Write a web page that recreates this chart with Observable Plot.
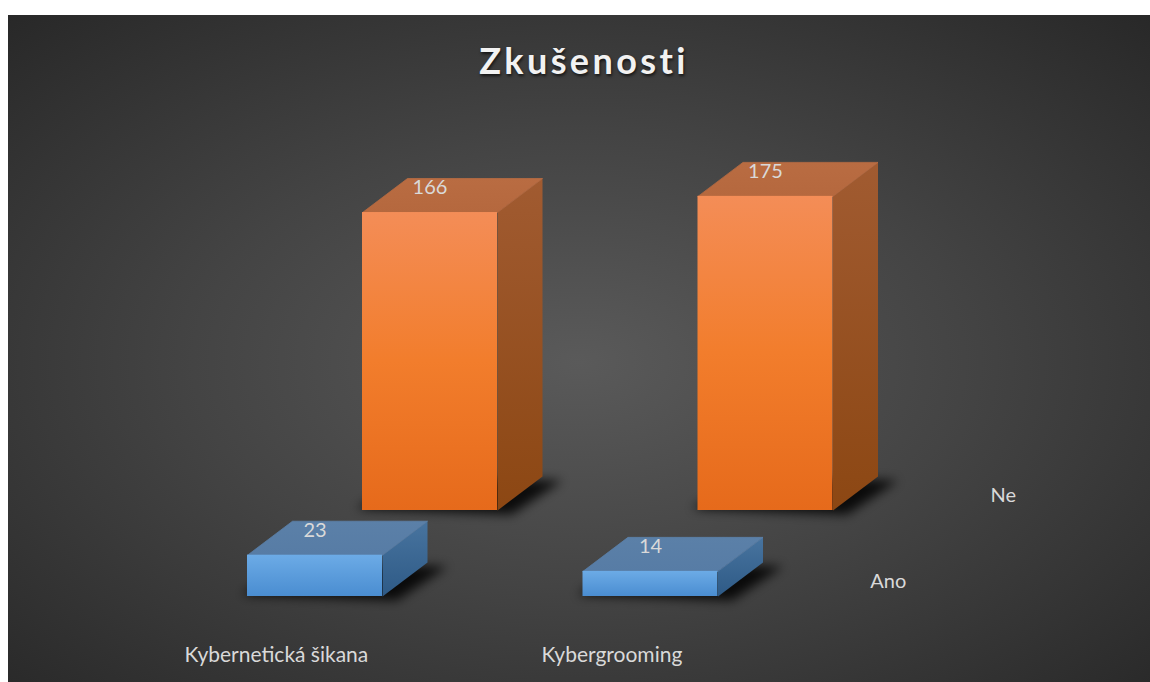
<!DOCTYPE html>
<html>
<head>
<meta charset="utf-8">
<script src="https://cdn.jsdelivr.net/npm/d3@7"></script>
<script src="https://cdn.jsdelivr.net/npm/@observablehq/plot@0.6"></script>
<style>
  html, body { margin: 0; padding: 0; background: #ffffff; }
  #chart {
    position: absolute; left: 8px; top: 15px; width: 1142px; height: 667px; overflow: hidden;
    background: radial-gradient(ellipse 75% 75% at 50% 52%, #5a5a5a 0%, #444444 45%, #262626 100%);
    font-family: Lato, "Open Sans", sans-serif;
  }
  #title {
    position: absolute; left: 0; top: 23px; width: 1142px; text-align: center;
    font-family: Lato, "Open Sans", sans-serif; font-weight: 700; font-size: 36px;
    letter-spacing: 3.4px; color: #f2f2f2; padding-left: 10px; box-sizing: border-box;
    text-shadow: 1px 2px 3px rgba(0,0,0,0.65);
  }
  #plot { position: absolute; left: 0; top: 0; }
</style>
</head>
<body>
<svg width="0" height="0" style="position:absolute">
  <defs>
    <linearGradient id="frontNe" x1="0" y1="0" x2="0" y2="1">
      <stop offset="0" stop-color="#f48d57"/>
      <stop offset="0.5" stop-color="#f27d2c"/>
      <stop offset="1" stop-color="#e66a1b"/>
    </linearGradient>
    <linearGradient id="sideNe" x1="0" y1="0" x2="0" y2="1">
      <stop offset="0" stop-color="#a15b31"/>
      <stop offset="1" stop-color="#8c4713"/>
    </linearGradient>
    <linearGradient id="topNe" x1="0" y1="0" x2="0" y2="1">
      <stop offset="0" stop-color="#b96c42"/>
      <stop offset="1" stop-color="#b5683e"/>
    </linearGradient>
    <linearGradient id="frontAno" x1="0" y1="0" x2="0" y2="1">
      <stop offset="0" stop-color="#6cabe6"/>
      <stop offset="1" stop-color="#4a8dd1"/>
    </linearGradient>
    <linearGradient id="sideAno" x1="0" y1="0" x2="0" y2="1">
      <stop offset="0" stop-color="#48749f"/>
      <stop offset="1" stop-color="#2e5a86"/>
    </linearGradient>
    <linearGradient id="topAno" x1="0" y1="0" x2="0" y2="1">
      <stop offset="0" stop-color="#5b80a8"/>
      <stop offset="1" stop-color="#577ca5"/>
    </linearGradient>
    <filter id="blur" x="-50%" y="-50%" width="200%" height="200%">
      <feGaussianBlur stdDeviation="5.5"/>
    </filter>
  </defs>
</svg>
<div id="chart">
  <div id="plot"></div>
  <div id="title">Zkušenosti</div>
</div>
<script>
// ---- data ----
const categories = ["Kybernetická šikana", "Kybergrooming"];
const series = ["Ano", "Ne"];
const anoValues = [23, 14];
const neValues = [166, 175];
const seriesValues = [anoValues, neValues];
const seriesFills = {
  Ano: {front: "url(#frontAno)", side: "url(#sideAno)", top: "url(#topAno)"},
  Ne: {front: "url(#frontNe)", side: "url(#sideNe)", top: "url(#topNe)"}
};

// ---- pseudo-3D projection (in data units) ----
const W = 1142, H = 667;
const pxPerCat = 335.5, pxPerUnit = 1.795, originX = 306.5, baseY = 581;
const BW = 135 / pxPerCat;          // bar width
const SDX = 115 / pxPerCat;         // series row offset x
const SDY = 86 / pxPerUnit;         // series row offset y
const DDX = 45 / pxPerCat;          // bar depth x
const DDY = 34 / pxPerUnit;         // bar depth y

const bars = [];
series.forEach((s, j) => categories.forEach((c, i) => {
  const value = seriesValues[j][i];
  const cx = i + j * SDX, base = j * SDY, top = base + value;
  bars.push({series: s, cat: c, i, j, value, cx, base, top,
    x1: cx - BW / 2, x2: cx + BW / 2});
}));

function polys(s, kind) {
  const pts = [];
  bars.filter(b => b.series === s).forEach((b, k) => {
    const id = s + kind + k, fill = seriesFills[s][kind];
    let p;
    if (kind === "top") p = [[b.x1, b.top], [b.x2, b.top], [b.x2 + DDX, b.top + DDY], [b.x1 + DDX, b.top + DDY], [b.x1, b.top]];
    else p = [[b.x2, b.base], [b.x2 + DDX, b.base + DDY], [b.x2 + DDX, b.top + DDY], [b.x2, b.top], [b.x2, b.base]];
    p.forEach(([x, y]) => pts.push({id, x, y, fill}));
  });
  return pts;
}
function shadows() {
  const pts = [];
  bars.forEach((b, k) => {
    const ox = 14 / pxPerCat, oy = -4 / pxPerUnit, e = 6 / pxPerCat;
    const p = [[b.x1 - e, b.base + 1], [b.x2 + ox, b.base + oy], [b.x2 + DDX + ox + e, b.base + DDY + oy], [b.x1 + DDX, b.base + DDY], [b.x1 - e, b.base + 1]];
    p.forEach(([x, y]) => pts.push({id: "sh" + k, x, y}));
  });
  return pts;
}

const catLabels = categories.map((c, i) => ({label: c, x: i - 0.115, y: -32.9}));
const serLabels = series.map((s, j) => ({label: s, x: categories.length - 1 + 0.709 + j * SDX, y: j * SDY + 8.4}));

const marks = [
  Plot.line(shadows(), {x: "x", y: "y", z: "id", fill: "#000", fillOpacity: 0.85, stroke: "none"})
];
for (const s of ["Ne", "Ano"]) {
  marks.push(Plot.line(polys(s, "side"), {x: "x", y: "y", z: "id", fill: "fill", stroke: "none"}));
  marks.push(Plot.line(polys(s, "top"), {x: "x", y: "y", z: "id", fill: "fill", stroke: "fill", strokeWidth: 0.8}));
  marks.push(Plot.rect(bars.filter(b => b.series === s), {x1: "x1", x2: "x2", y1: "base", y2: "top", fill: d => seriesFills[d.series].front}));
}
marks.push(Plot.text(bars, {x: "cx", y: d => d.top + 13.9, text: d => String(d.value), fill: "#d9d9d9", fontSize: 20, fontFamily: "Lato, 'Open Sans', sans-serif"}));
marks.push(Plot.text(catLabels, {x: "x", y: "y", text: "label", fill: "#d9d9d9", fontSize: 21, fontFamily: "Lato, 'Open Sans', sans-serif"}));
marks.push(Plot.text(serLabels, {x: "x", y: "y", text: "label", fill: "#d9d9d9", fontSize: 20, fontFamily: "Lato, 'Open Sans', sans-serif"}));

const svg = Plot.plot({
  width: W, height: H,
  marginLeft: 0, marginRight: 0, marginTop: 0, marginBottom: 0,
  x: {domain: [-originX / pxPerCat, (W - originX) / pxPerCat], axis: null},
  y: {domain: [(baseY - H) / pxPerUnit, baseY / pxPerUnit], axis: null},
  color: {type: "identity"},
  style: {background: "transparent", overflow: "visible"},
  marks
});
const first = svg.querySelector("g[aria-label]");
if (first) first.setAttribute("filter", "url(#blur)");
document.getElementById("plot").appendChild(svg);
</script>
</body>
</html>
